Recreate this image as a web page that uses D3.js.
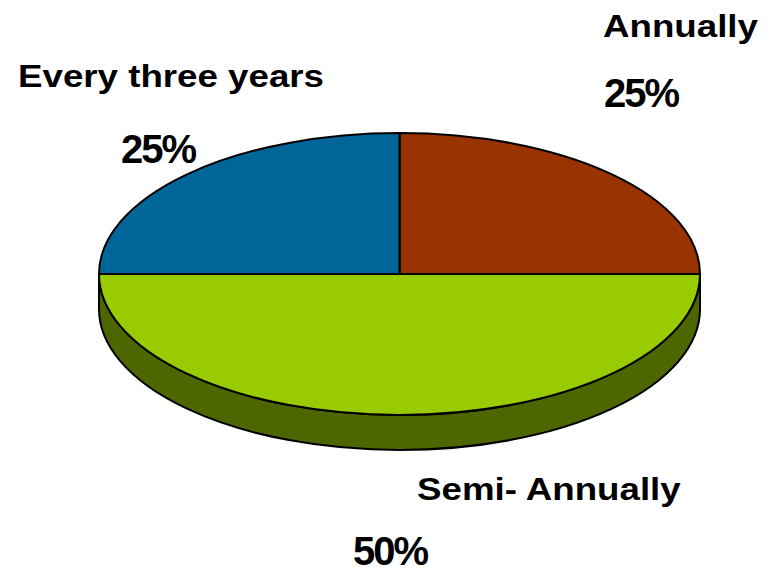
<!DOCTYPE html>
<html>
<head>
<meta charset="utf-8">
<script src="https://cdn.jsdelivr.net/npm/d3@7"></script>
<style>
  html, body { margin: 0; padding: 0; background: #fff; }
  svg { display: block; }
  text { font-family: Arial, "Liberation Sans", sans-serif; font-weight: bold; fill: #000; }
</style>
</head>
<body>
<svg id="chart" width="769" height="574"></svg>
<script>
// Review frequency shares
const categories = ["Annually", "Semi- Annually", "Every three years"];
const values = [25, 50, 25];
const valueLabels = ["25%", "50%", "25%"];
const colors = ["#993300", "#99cc00", "#006699"];
const sideColors = ["#4d1a00", "#4d6600", "#003350"];

// Label anchors (left x, baseline y) for name and value text of each slice
const labelPos = [
  { name: [603, 37], value: [604, 107] },
  { name: [417, 500], value: [353, 565] },
  { name: [18, 87], value: [121, 163] }
];

const W = 769, H = 574;
const cx = 399.5, cy = 274, rx = 300.5, ry = 141, depth = 35;

const svg = d3.select("#chart");

const pie = d3.pie().sort(null).startAngle(0).endAngle(2 * Math.PI);
const arcs = pie(values).map((d, i) => ({ ...d, i }));

// Project a pie angle (0 = 12 o'clock, clockwise) onto the tilted ellipse
const pt = (a, dy = 0) => [cx + rx * Math.sin(a), cy - ry * Math.cos(a) + dy];

function topPath(d) {
  const p0 = pt(d.startAngle), p1 = pt(d.endAngle);
  const large = d.endAngle - d.startAngle > Math.PI ? 1 : 0;
  return `M${cx},${cy}L${p0[0]},${p0[1]}A${rx},${ry} 0 ${large} 1 ${p1[0]},${p1[1]}Z`;
}

// Front wall: only the part of the rim facing the viewer (angles PI/2 .. 3PI/2)
function sidePath(d) {
  const s = Math.max(d.startAngle, Math.PI / 2);
  const e = Math.min(d.endAngle, 3 * Math.PI / 2);
  if (e <= s) return null;
  const large = e - s > Math.PI ? 1 : 0;
  const a = pt(s), b = pt(e), bb = pt(e, depth), ab = pt(s, depth);
  return `M${a[0]},${a[1]}A${rx},${ry} 0 ${large} 1 ${b[0]},${b[1]}` +
         `L${bb[0]},${bb[1]}A${rx},${ry} 0 ${large} 0 ${ab[0]},${ab[1]}Z`;
}

const g = svg.append("g");

g.selectAll("path.side")
  .data(arcs.filter(d => sidePath(d)))
  .join("path")
  .attr("class", "side")
  .attr("d", sidePath)
  .attr("fill", d => sideColors[d.i])
  .attr("stroke", "#000")
  .attr("stroke-width", 2)
  .attr("stroke-linejoin", "round");

g.selectAll("path.top")
  .data(arcs)
  .join("path")
  .attr("class", "top")
  .attr("d", topPath)
  .attr("fill", d => colors[d.i])
  .attr("stroke", "#000")
  .attr("stroke-width", 2)
  .attr("stroke-linejoin", "round");

// Category names (wide bold lettering) and percentage values
const labels = svg.append("g");
categories.forEach((c, i) => {
  const [x, y] = labelPos[i].name;
  labels.append("text")
    .attr("transform", `translate(${x},${y}) scale(1.147,1)`)
    .attr("font-size", 32)
    .text(c);
  const [vx, vy] = labelPos[i].value;
  labels.append("text")
    .attr("x", vx).attr("y", vy)
    .attr("font-size", 40)
    .attr("letter-spacing", -2)
    .text(valueLabels[i]);
});
</script>
</body>
</html>
